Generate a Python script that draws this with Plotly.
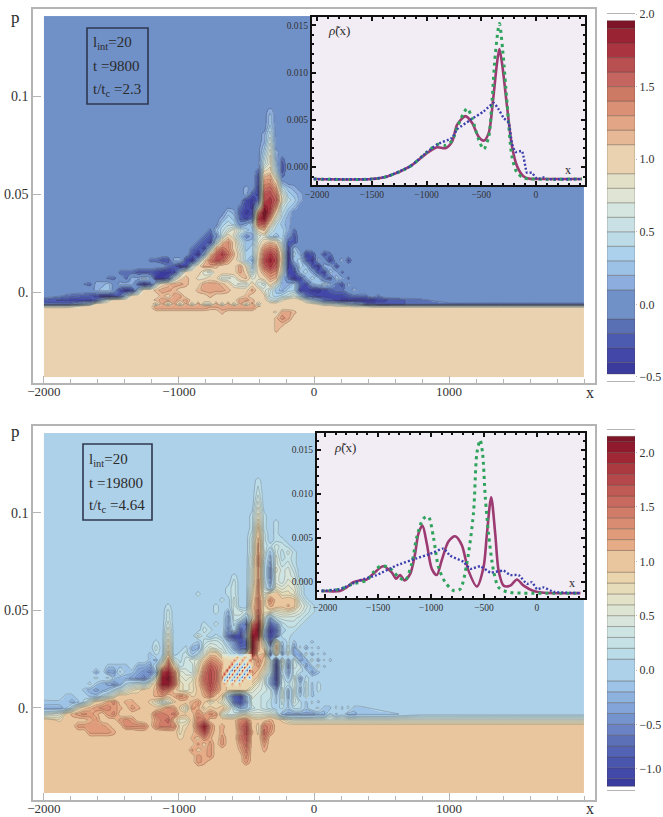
import plotly.graph_objects as go

W, H = 663, 817
SERIF = "Liberation Serif"

# ---- band colours, lowest band first, one per 0.1 of height ----
TOP_COLORS = ["#3b3b9e","#4348a8","#4c5bb0","#5a70b5","#7090c8","#7090c8","#8caddd","#9cc2e6","#acd1ec","#bddbe6",
              "#c9e1e4","#d5e5df","#dfe4d4","#e3e0c8","#ead2b0","#ead2b0","#e6b896","#e2a585","#da9075","#cd7a65",
              "#c56560","#b84f50","#aa3540","#992233","#7d1428"]
BOT_COLORS = ["#3a3d9e","#4349a8","#4a55ad","#5262b4","#5c70b8","#6b82c4","#7593cc","#83a4d8","#8eb2de","#9dc3e6",
              "#aed1ea","#aed1ea","#b9dce8","#c5e1e6","#cde4e2","#d8e5dc","#dee4d2","#e2e2c8","#e6dcba","#e9d4ae",
              "#eac69f","#eac69f","#e5ac87","#e09c7a","#d98c72","#d07c68","#c86a5f","#c05a55","#b5484a","#ab3a40",
              "#a02835","#8f1a2e","#7d1428"]
TOP_EDGES = [-.48,-.4,-.3,-.2,-.1,.1,.2,.3,.4,.5,.6,.7,.8,.9,1.1,1.2,1.3,1.4,1.5,1.6,1.7,1.8,1.9,1.954]
BOT_EDGES = [-1.07,-1.0,-.9,-.8,-.7,-.6,-.5,-.4,-.3,-.2,-.1,.1,.2,.3,.4,.5,.6,.7,.8,.9,1.1,1.2,1.3,1.4,1.5,1.6,1.7,1.8,1.9,2.0,2.1,2.15]

# ---- Wigner field: one character per node ----
# '.'=0  digits=0.n  A=1.0 B=1.1 ... L=2.1  a=-0.1 band, b=-0.2 band ...
TOP_X = [-2000,-1822] + [-1659 + 44.44*i for i in range(51)] + [785,1007,1304,1674,2000]
TOP_GROUPS = [2,10,10,10,10,10,6]
TOP_ROWS = [
 (.1408,""),(.0950,""),
 (.0929,"||||1"),(.0898,"||||2"),(.0867,"||||2"),(.0837,"||||3"),
 (.0806,"|||.........1|4"),(.0776,"|||.........1|5"),(.0745,"|||.........2|6"),
 (.0714,"|||.........3|71"),(.0684,"|||.........4|81a"),(.0653,"|||.........5|82b"),
 (.0622,"|||........a8|93b"),(.0592,"|||........bB|C6a"),(.0561,"|||........bD|DA1"),
 (.0531,"|||......1.cE|FC421"),(.0500,"|||......1bcG|GE7321"),(.0469,"|||......cdaG|HF8431"),
 (.0439,"|||.....acd4I|HD532"),(.0408,"|||...21bdcEK|GA42"),(.0378,"|||..132bcaHJ|D731"),
 (.0347,"|||..343.13FF|9421"),(.0316,"|||a24685329B|5331a"),
 (.0286,"||.........a|b.5A73.167|323.b"),
 (.0255,"||........ab|c4BDA5227A|BA4bb"),
 (.0224,"||.......abc|3CEDA6238D|ED6c2"),
 (.0194,"||.......bd1|BFHEB7339F|HF8d31cb.b|a"),
 (.0163,"||aabb11cd2A|EGFCA731AG|IG8d23bd1.|c.1b"),
 (.0133,"||...abdc5AC|CBAAAC83AF|HF7da32bd1|1b"),
 (.0102,"|.....aaabb|bcddc3AAA7|6AAAACA49C|ED6cc231bc|21a"),
 (.0071,"|...aa.a112|1ddb5ABA88|A9667AB78A|CB2adc132a|b21a"),
 (.0041,"|a112.111bd|b5ABCCBAAC|CCBA766A65|A6113bc123|1ab1"),
 (.0010,"..|.122.cdc3A|ABCCBAAABC|CCCBAAACA7|52133ccddc|baa.1."),
 (-.0020,".a|bcddca4AAA|AABACCAAAA|BAAAAABAA9|434573abcc|cccbaaa.a."),
 (-.0041,"bc|ca37AAAAA9|ABCCCBCAAA|AAAAACCBAA|658AA9631a|bcddddddcc|ba...."),
 (-.0061,"aa|4AAAAAAAAA|A7C7C7C7C7|7C7C7C7C7A|AAAAAAA986|654321aabb|baaaaa"),
 (-.0071,"66|AAAAAAAAAA|ACCCCCCCCC|CCCCCCCCBA|AAAAAAAAA9|9888777666|666666"),
 (-.0082,"99|9999999AAA|ACCCCCCCCC|BBCCCCCCAA"),
 (-.0102,"|||AABAAAAAAA|98CCBAAAAA"),
 (-.0133,"||||9BDCA999AA"),(-.0163,"||||9BBAA99AAA"),(-.0194,"||||9BAAAAAAAA"),
 (-.0224,""),(-.0434,""),
]

BOT_X = [-2000] + [-1881 + 44.44*i for i in range(51)] + [563,785,1081,1378,1674,2000]
BOT_GROUPS = [1,10,10,10,10,10,7]
BOT_ROWS = [
 (.1410,""),(.1200,""),
 (.1169,"||||...1"),(.1108,"||||...2"),(.1046,"||||...4"),(.0985,"||||..161"),
 (.0954,"||||..171.1"),(.0923,"||||..191.1"),(.0892,"||||..2A2.1"),(.0862,"||||..3B2.11"),
 (.0831,"||||..3C21321"),(.0800,"||||..3C3a3131"),(.0769,"||||..4D2b4121"),(.0738,"||||..4D1c4231"),
 (.0708,"||||..5C1d5342"),
 (.0677,"|||.........1|..5C1d4343"),
 (.0646,"|||.........2|..5D2c4354|1"),
 (.0615,"|||........12|..6D3a6565|2"),
 (.0585,"|||...1....12|..7D59A776|2"),
 (.0554,"|||.......1.3|..8E7DA9A9|41"),
 (.0523,"||........1.|......1..3|..9E7BA9B9|531"),
 (.0492,"||........2.|......1.b3|328F765665|421"),
 (.0462,"||........2.|........c2|2b6G4c2333|21"),
 (.0431,"||........3.|....1.1.c1|dfEK3gd122|1"),
 (.0400,"||........4.|....21..d.|gdILajf.11"),
 (.0369,"||........5.|...31.1.fi|iaLJbie11."),
 (.0338,"||......1.6.|...a2332ad|hgLD4g8a1a|..a"),
 (.0308,"||......2.7.|.1bb35431c|ffLC7a9b2c|1b1a"),
 (.0277,"||.....a1.8.|12a15AA521|a8JABe7c3c|c2b1a"),
 (.0246,"||.....ab3D3|1345ADCA88|88ADA3h4c3|cb2b1a"),
 (.0215,"|........aa|aa.bbc1AG8|2337CGEC88|88AC82i3d3|2ca2a"),
 (.0185,"|......b.cc|1aacdeaIKE|5438EHFA88|88CA61i1c2|1.ca"),
 (.0154,"|......1.1a|bbcdea6KLF|656AFHFA88|88A83bi2a3|c1"),
 (.0123,"|.....1abcd|b12326BKKF|767AEHEA88|88853bh213|a2a1"),
 (.0092,"|....abcba1|35789ABFEA|7679CGDA88|885432c3b3|b2a1"),
 (.0062,"|.aa..aa136|A9A99ABC9B|DC89BDA8ag|ib4322a3b3|a2a"),
 (.0031,"a|aaba159ACD|ABBAA86358|AABC96863f|hc3321a2a3|1a1a"),
 (.0000,"b|ba27ABCDDC|BACBAA9BDC|85CB7A8A61|ba2321.1a1|1a.1aa1a1a|a"),
 (-.0031,"3|59BCDCBACD|A9A9AAEEDE|A9ADBDC533|5655553bcc|cccbb1a.bb|aa"),
 (-.0062,"A|8AAAABCAAA|CDCA9ACEFA|66AEEAAAAA|DEA9ABA865|5555555555|5555555"),
 (-.0092,"|AAACCCCCBA|ADDDDADEED|78AFKDABA9|EHA8EDAAAA"),
 (-.0123,"|AAAAACCCCB|999AAA99AA|79ADHCAB99|DHB8FCAAAA"),
 (-.0154,"||AAAAAA999A|89BADB9CA9|EGA9EAAAAA"),
 (-.0185,"||AAAAAAA99A|A9ACACACA9|CFA9CAAAAA"),
 (-.0215,"||AAAAAAAA9A|A9CABCAAA9|BEA9BA9AAA"),
 (-.0246,"||AAAAAAAAA9|99ACBCAAA9|ADA9AAAAAA"),
 (-.0277,"||AAAAAAAAA9|99ACBAAAA9|ACA9AAAAAA"),
 (-.0308,"||AAAAAAAAA9|AAAAAAAAA9|A9A9AAAAAA"),
 (-.0338,"||AAAAAAAAA9|AAAAAAAAA9|AAA9AAAAAA"),
 (-.0369,"||||AAA9"),(-.0400,"||||AAA9"),(-.0431,""),(-.0436,""),
]

# fine grid over the diagonal fringes of the lower panel
FRINGE_X = [-681.5 + 18.5*k for k in range(13)]
FRINGE_ROWS = [
 (.0277,"5432211a.158F"),(.0260,"877665C75C75E"),(.0244,"A8888E72E72ED"),(.0227,"C888G4dG4dG4C"),
 (.0210,"B88H4eH4eH4eB"),(.0194,"A8I4fI4fI4fIA"),(.0177,"AH4fH4fH4fH7A"),(.0160,"G4eG4eG4eG4e9"),
 (.0144,"AdE4dE4dE7888"),(.0127,"AC75C75C78888"),(.0110,"A888888888887"),
]

# ---- inset curves ----
TOP_SOLID_X = [-2030,-1500,-1359,-1146,-994,-903,-827,-766,-720,-644,-584,-523,-477,-432,-392,-356,-334,-310,-264,-219,-173,-112,-52,0,420]
TOP_SOLID_Y = [-.00127,-.00127,-.001,.0001,.0015,.0021,.002,.0027,.0045,.0054,.0047,.0032,.0028,.0036,.0071,.011,.0125,.011,.0064,.0022,.0001,-.001,-.00125,-.00127,-.00127]
TOP_GREEN_X = [-2030,-1500,-1359,-1146,-994,-903,-827,-766,-720,-629,-584,-523,-477,-432,-401,-371,-334,-304,-264,-219,-173,-112,-52,420]
TOP_GREEN_Y = [-.00127,-.00127,-.001,.0001,.0016,.0024,.0023,.0028,.0042,.0062,.0052,.0029,.0019,.0032,.0071,.012,.0152,.0124,.0068,.0011,-.0006,-.00116,-.00125,-.00127]
TOP_BLUE_X = [-2030,-1500,-1359,-1146,-994,-903,-766,-720,-599,-477,-386,-340,-295,-249,-219,-188,-128,-82,-36,-5,25,70,100,420]
TOP_BLUE_Y = [-.00127,-.00127,-.001,.0001,.0016,.0024,.0031,.004,.005,.0059,.0068,.0061,.0052,.0047,.0025,.0016,.0017,-.0006,-.0006,-.0011,-.00127,-.0011,-.00127,-.00127]

BOT_SOLID_X = [-2032,-1858,-1795,-1733,-1670,-1606,-1544,-1450,-1370,-1330,-1290,-1250,-1197,-1150,-1118,-1080,-1040,-992,-945,-898,-835,-772,-709,-646,-567,-504,-472,-432,-394,-362,-315,-252,-189,-126,-32,63,410]
BOT_SOLID_Y = [-.001,-.001,-.0006,0,.0002,.0003,.00095,.0018,.0011,.0004,.0008,.0002,.0009,.0032,.0055,.0064,.0044,.0015,.0008,.0025,.0046,.0052,.0042,.0013,-.0005,.0017,.0055,.0096,.0055,.0013,-.0004,-.0004,.0003,-.0004,-.001,-.0012,-.00125]
BOT_GREEN_X = [-2032,-1858,-1733,-1606,-1544,-1480,-1402,-1307,-1244,-1181,-1134,-1071,-1024,-977,-929,-866,-788,-725,-662,-599,-567,-536,-513,-488,-457,-410,-362,-284,-126,410]
BOT_GREEN_Y = [-.001,-.0008,-.0002,.0002,.0011,.0018,.0017,.0006,.0002,.0021,.0051,.0072,.0074,.0051,.0017,0,-.00095,-.0008,.0021,.0078,.0146,.0161,.0146,.0097,.0055,.0013,-.0006,-.0011,-.00125,-.00125]
BOT_BLUE_X = [-2032,-1858,-1670,-1512,-1323,-1134,-1008,-882,-819,-693,-630,-536,-441,-315,-252,-173,-95,-47,0,63,157,410]
BOT_BLUE_Y = [-.001,-.0008,.0002,.0008,.0019,.0027,.0032,.0038,.003,.0023,.0015,.0018,.0011,.0013,.0008,.0008,-.0002,0,-.0008,-.0006,-.0011,-.00125]

# ---- axis labels ----
MAIN_X_TICKS = [-2000,-1000,0,1000]
MAIN_X_TEXT = ["−2000","−1000","0","1000"]
MAIN_Y_TICKS = [0,.05,.1]
MAIN_Y_TEXT = ["0.","0.05","0.1"]
INSET_X_TICKS = [-2000,-1500,-1000,-500,0]
INSET_X_TEXT = ["−2000","−1500","−1000","−500","0"]
INSET_Y_TICKS = [0,.005,.01,.015]
INSET_Y_TEXT = ["0.000","0.005","0.010","0.015"]
CB_TOP_TICKS = [2,1.5,1,.5,0,-.5]
CB_TOP_TEXT = ["2.0","1.5","1.0","0.5","0.0","−0.5"]
CB_BOT_TICKS = [2,1.5,1,.5,0,-.5,-.905]
CB_BOT_TEXT = ["2.0","1.5","1.0","0.5","0.0","−0.5","−1.0"]


CODES_POS = "ABCDEFGHIJKL"
def decode(ch):
    if ch == ".": return 0.02
    if ch == "A": return 1.02
    if ch.isdigit(): return int(ch)/10 + .05
    if ch.isupper(): return 1 + CODES_POS.index(ch)/10 + .05
    return -(ord(ch)-ord("a")+1)/10 - .05

def field(rows, groups, cut):
    rows = sorted(rows, key=lambda r: r[0])
    ys, zs = [], []
    for p, s in rows:
        fill = "A" if p < cut else "."
        parts = s.split("|") if s else []
        parts += [""]*(len(groups)-len(parts))
        line = "".join(a.ljust(g, fill) for a, g in zip(parts, groups))
        assert len(line) == sum(groups), (p, len(line))
        ys.append(p)
        zs.append([decode(c) for c in line])
    return ys, zs

def xdom(a, b): return [a/W, b/W]
def ydom(t, b): return [1-b/H, 1-t/H]

fig = go.Figure()

def stepscale(colors):
    n = len(colors); out = []
    for i, c in enumerate(colors):
        out += [[i/n, c], [(i+1)/n, c]]
    return out

LINE = "rgba(65,55,45,0.42)"
def panel(xa, ya, X, rows, groups, colors, zlo, zhi, ranges):
    ys, zs = field(rows, groups, -.0075)
    fig.add_trace(go.Contour(x=X, y=ys, z=zs, xaxis=xa, yaxis=ya, showscale=False, hoverinfo="skip",
        colorscale=stepscale(colors), zmin=zlo, zmax=zhi, autocontour=False, connectgaps=True,
        contours=dict(start=zlo, end=zhi, size=.1, coloring="heatmap", showlines=False),
        line=dict(width=0)))
    for a, b in ranges:
        fig.add_trace(go.Contour(x=X, y=ys, z=zs, xaxis=xa, yaxis=ya, showscale=False, hoverinfo="skip",
            autocontour=False, connectgaps=True, contours=dict(start=a, end=b, size=.1, coloring="none"),
            line=dict(width=.6, color=LINE, smoothing=.5)))

panel("x","y",TOP_X,TOP_ROWS,TOP_GROUPS,TOP_COLORS,-.5,2.0,[(-.4,-.1),(.1,.9),(1.1,2.0)])
panel("x2","y2",BOT_X,BOT_ROWS,BOT_GROUPS,BOT_COLORS,-1.1,2.2,[(-1.0,-.1),(.1,.9),(1.1,2.2)])
panel("x2","y2",FRINGE_X,FRINGE_ROWS,[13],BOT_COLORS,-1.1,2.2,[])

def inset_back(xa, ya, rx, ry):
    fig.add_trace(go.Heatmap(x=rx, y=ry, z=[[0,0],[0,0]], xaxis=xa, yaxis=ya, showscale=False, hoverinfo="skip",
        colorscale=[[0,"#f2ecf4"],[1,"#f2ecf4"]]))

INSET_TOP_RX = [-2046,448]; INSET_TOP_RY = [-.0019,.0159]
INSET_BOT_RX = [-2075,453]; INSET_BOT_RY = [-.0018,.0169]
inset_back("x3","y3",INSET_TOP_RX,INSET_TOP_RY)
inset_back("x4","y4",INSET_BOT_RX,INSET_BOT_RY)

def curves(xa, ya, sx, sy, gx, gy, bx, by):
    fig.add_trace(go.Scatter(x=sx, y=sy, xaxis=xa, yaxis=ya, mode="lines", hoverinfo="skip", showlegend=False,
        line=dict(color="#9c3a72", width=2.6, shape="spline", smoothing=.8)))
    fig.add_trace(go.Scatter(x=gx, y=gy, xaxis=xa, yaxis=ya, mode="lines", hoverinfo="skip", showlegend=False,
        line=dict(color="#2fa35c", width=3, shape="spline", smoothing=.8, dash="3px,4px")))
    fig.add_trace(go.Scatter(x=bx, y=by, xaxis=xa, yaxis=ya, mode="lines", hoverinfo="skip", showlegend=False,
        line=dict(color="#3b3fae", width=2.4, shape="spline", smoothing=.4, dash="2px,2px")))

curves("x3","y3",TOP_SOLID_X,TOP_SOLID_Y,TOP_GREEN_X,TOP_GREEN_Y,TOP_BLUE_X,TOP_BLUE_Y)
curves("x4","y4",BOT_SOLID_X,BOT_SOLID_Y,BOT_GREEN_X,BOT_GREEN_Y,BOT_BLUE_X,BOT_BLUE_Y)

def bands(xa, ya, edges, colors, lo):
    base = edges[:-1]
    heights = [b-a for a, b in zip(edges[:-1], edges[1:])]
    cols = [colors[int(((a+b)/2-lo)*10)] for a, b in zip(edges[:-1], edges[1:])]
    fig.add_trace(go.Bar(x=[0]*len(base), y=heights, base=base, width=1, xaxis=xa, yaxis=ya, hoverinfo="skip",
        showlegend=False, marker=dict(color=cols, line=dict(color="rgba(70,60,50,0.45)", width=.7))))
bands("x5","y5",TOP_EDGES,TOP_COLORS,-.5)
bands("x6","y6",BOT_EDGES,BOT_COLORS,-1.1)

GREY = "#b4b4b4"
TXT = "#333333"
def main_axes(px0, px1, pt, pb, ry, yref):
    xa = dict(domain=xdom(px0,px1), range=[-2081,2081], showgrid=False, zeroline=False, showline=True, mirror=True,
        linecolor=GREY, linewidth=1.5, ticks="inside", ticklen=7, tickcolor=GREY, tickvals=MAIN_X_TICKS, ticktext=MAIN_X_TEXT,
        tickfont=dict(family=SERIF,size=13,color=TXT), anchor=yref, ticklabelstandoff=-4,
        minor=dict(ticks="inside", ticklen=4, tickcolor=GREY, dtick=200, tick0=0, showgrid=False))
    ya = dict(domain=ydom(pt,pb), range=ry, showgrid=False, zeroline=False, showline=True, mirror=True,
        linecolor=GREY, linewidth=1.5, ticks="inside", ticklen=8, tickcolor=GREY, tickvals=MAIN_Y_TICKS, ticktext=MAIN_Y_TEXT,
        tickfont=dict(family=SERIF,size=14,color=TXT))
    return xa, ya

def inset_axes(px0, px1, pt, pb, rx, ry):
    xa = dict(domain=xdom(px0,px1), range=rx, showgrid=False, zeroline=False, showline=True, mirror="ticks",
        linecolor="#111", linewidth=2, ticks="inside", ticklen=4, tickcolor="#111", tickwidth=1.5, tickvals=INSET_X_TICKS, ticktext=INSET_X_TEXT,
        tickfont=dict(family=SERIF,size=9.5,color=TXT),
        minor=dict(ticks="inside", ticklen=2, tickcolor="#111", dtick=100, tick0=0, showgrid=False))
    ya = dict(domain=ydom(pt,pb), range=ry, showgrid=False, zeroline=False, showline=True, mirror="ticks",
        linecolor="#111", linewidth=2, ticks="inside", ticklen=4, tickcolor="#111", tickwidth=1.5, tickvals=INSET_Y_TICKS, ticktext=INSET_Y_TEXT,
        tickfont=dict(family=SERIF,size=9.5,color=TXT),
        minor=dict(ticks="inside", ticklen=2, tickcolor="#111", dtick=.001, tick0=0, showgrid=False))
    return xa, ya

def cb_axes(pt, pb, ry, vals, text, xref):
    xa = dict(domain=xdom(607,635), range=[-.5,.5], showgrid=False, zeroline=False, showline=True, mirror=True,
        linecolor=GREY, linewidth=1, ticks="", showticklabels=False, fixedrange=True)
    ya = dict(domain=ydom(pt,pb), range=ry, showgrid=False, zeroline=False, side="right", anchor=xref, showline=False,
        ticks="outside", ticklen=1, tickcolor=GREY, tickvals=vals, ticktext=text, tickfont=dict(family=SERIF,size=12,color=TXT))
    return xa, ya

ax = {}
ax["xaxis"], ax["yaxis"] = main_axes(33,595,9,383,[-.0464,.1444],"y")
ax["xaxis2"], ax["yaxis2"] = main_axes(33,595,426,800,[-.0472,.1446],"y2")
ax["xaxis3"], ax["yaxis3"] = inset_axes(312,585,17,185,INSET_TOP_RX,INSET_TOP_RY)
ax["xaxis4"], ax["yaxis4"] = inset_axes(317,585,433,598,INSET_BOT_RX,INSET_BOT_RY)
ax["xaxis5"], ax["yaxis5"] = cb_axes(14,381,[-.528,2.0],CB_TOP_TICKS,CB_TOP_TEXT,"x5")
ax["xaxis6"], ax["yaxis6"] = cb_axes(430,790,[-1.104,2.208],CB_BOT_TICKS,CB_BOT_TEXT,"x6")
for i in (2,3,4,5,6):
    ax[f"xaxis{i}"]["anchor"] = f"y{i}"
    ax[f"yaxis{i}"]["anchor"] = f"x{i}"
ax["xaxis"]["anchor"] = "y"; ax["yaxis"]["anchor"] = "x"

def note(text, px, py, size=15, anchor="left"):
    return dict(text=text, x=px/W, y=1-py/H, xref="paper", yref="paper", showarrow=False, xanchor=anchor, yanchor="middle",
        font=dict(family=SERIF,size=size,color="#2b2b2b"))

notes = [
    note("p",15,17,17,"center"), note("p",15,431,17,"center"),
    note("x",590,392,16,"center"), note("x",590,808,16,"center"),
    note("l<sub>int</sub>=20",91,43), note("t =9800",91,66), note("t/t<sub>c</sub> =2.3",91,90),
    note("l<sub>int</sub>=20",87,460), note("t =19800",87,483), note("t/t<sub>c</sub> =4.64",87,506),
    note("<i>ρ̃</i>(x)",326,31,13), note("<i>ρ̃</i>(x)",332,447,13),
    note("x",568,170,12,"center"), note("x",572,583,12,"center"),
]
def box(x0,y0,x1,y1):
    return dict(type="rect", xref="paper", yref="paper", x0=x0/W, x1=x1/W, y0=1-y0/H, y1=1-y1/H,
        line=dict(color="#2f3850", width=1.6), fillcolor="rgba(0,0,0,0)", layer="above")
shapes = [box(87,28,148,104), box(83,444,152,520)]
fig.update_layout(width=W, height=H, margin=dict(l=0,r=0,t=0,b=0,autoexpand=False), autosize=False, paper_bgcolor="white", plot_bgcolor="rgba(0,0,0,0)",
    showlegend=False, barmode="overlay", annotations=notes, shapes=shapes, **ax)
fig.write_html("out.html", config=dict(displayModeBar=False), post_script="document.body.style.margin='0';document.body.style.overflow='hidden';")
